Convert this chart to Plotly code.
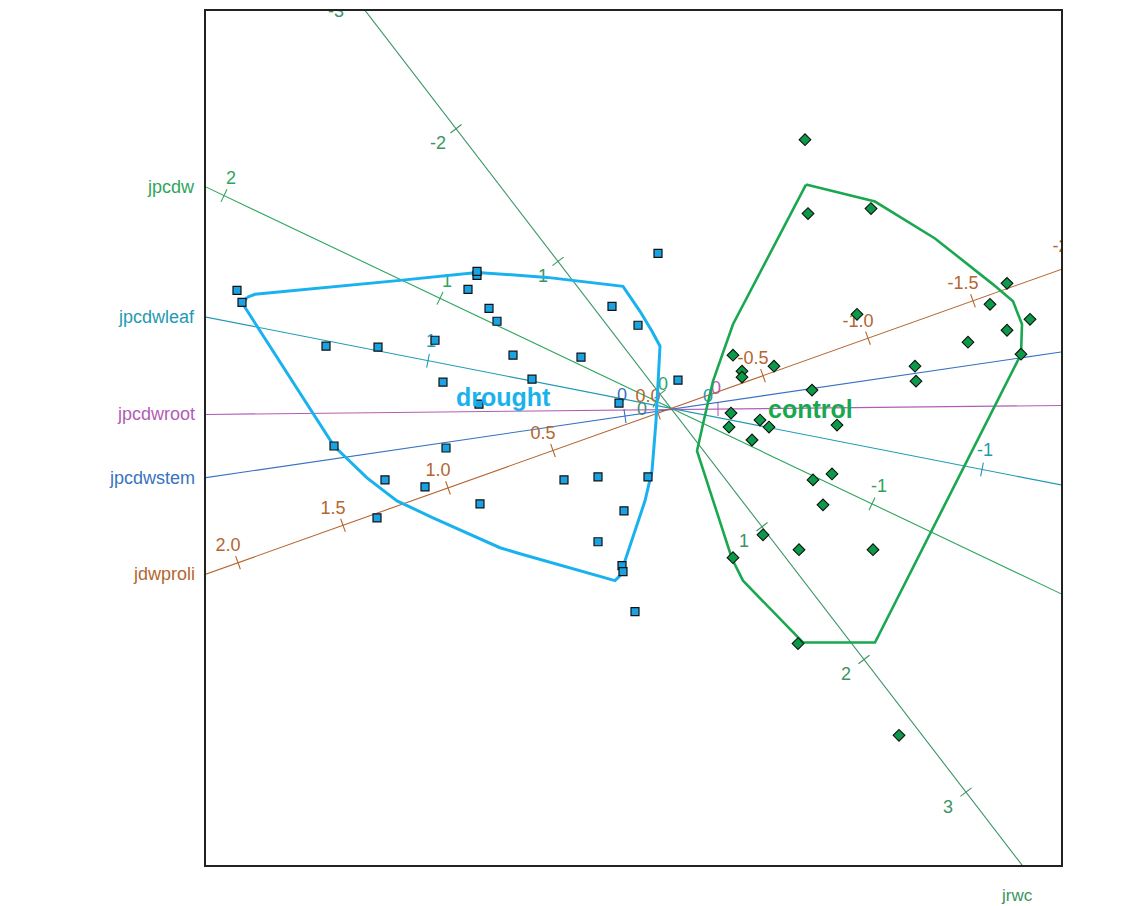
import numpy as np
import plotly.graph_objects as go

# ---- genotype scores in the biplot plane ----
drought_x = [-4.30, -4.25, -3.41, -2.89, -2.32, -2.24, -1.99, -1.90, -1.90, -1.78,
             -1.70, -1.54, -1.35, -0.86, -0.55, -0.29, -0.09, 0.11, -0.48, -1.88,
             -3.33, -2.21, -2.82, -2.42, -1.87, -2.90, -1.03, -0.69, -0.19, -0.43,
             -0.69, -0.45, -0.44, -0.32]
drought_y = [1.18, 1.06, 0.62, 0.61, 0.68, 0.26, 1.19, 1.33, 1.37, 1.00,
             0.87, 0.53, 0.29, 0.51, 1.02, 0.83, 1.55, 0.28, 0.05, 0.04,
             -0.38, -0.40, -0.72, -0.79, -0.96, -1.10, -0.72, -0.69, -0.69, -1.03,
             -1.34, -1.58, -1.64, -2.04]

control_x = [1.38, 1.41, 2.04, 1.90, 0.66, 0.75, 0.75, 1.07, 1.45, 2.48,
             2.49, 3.01, 3.40, 3.23, 3.63, 3.40, 3.54, 0.64, 0.62, 0.93,
             1.02, 0.85, 1.70, 1.46, 1.65, 1.56, 0.96, 0.66, 1.32, 2.06,
             1.31, 2.32]
control_y = [2.69, 1.95, 2.00, 0.94, 0.53, 0.37, 0.31, 0.42, 0.18, 0.42,
             0.27, 0.66, 1.25, 1.04, 0.89, 0.78, 0.54, -0.05, -0.19, -0.12,
             -0.19, -0.32, -0.17, -0.72, -0.66, -0.97, -1.27, -1.50, -1.42, -1.42,
             -2.36, -3.28]

# ---- group envelopes ----
drought_hull_x = [-4.20, -4.12, -2.67, -1.90, -1.20, -0.44, -0.27, -0.15, -0.07, -0.11,
                  -0.15, -0.22, -0.47, -0.52, -1.47, -1.67, -2.34, -2.70, -3.00, -3.22,
                  -3.33, -4.24, -4.20]
drought_hull_y = [1.11, 1.14, 1.28, 1.36, 1.31, 1.22, 0.97, 0.77, 0.62, -0.13,
                  -0.63, -0.93, -1.68, -1.73, -1.46, -1.40, -1.10, -0.93, -0.70, -0.48,
                  -0.38, 1.04, 1.11]

control_hull_x = [1.39, 2.08, 2.68, 3.26, 3.46, 3.55, 3.54, 2.08, 1.36, 0.76,
                  0.65, 0.30, 0.36, 0.46, 0.66, 1.15, 1.39]
control_hull_y = [2.24, 2.07, 1.70, 1.24, 1.07, 0.84, 0.54, -2.35, -2.35, -1.73,
                  -1.51, -0.43, -0.16, 0.27, 0.84, 1.77, 2.24]

# ---- calibrated variable axes: zero mark and displacement per unit ----
var_names = ["jrwc", "jpcdw", "jpcdwleaf", "jpcdwroot", "jpcdwstem", "jdwproli"]
var_origin_x = [-0.07, -0.11, 0.38, 0.51, -0.42, -0.09]
var_origin_y = [0.14, 0.07, -0.07, -0.01, -0.08, -0.05]
var_step_x = [1.02, -2.16, -2.77, -6.00, -6.00, -2.10]
var_step_y = [-1.33, 1.03, 0.545, -0.063, -0.884, -0.75]
var_ticks = [
    [-3, -2, -1, 0, 1, 2, 3],
    [-2, -1, 0, 1, 2],
    [-1, 0, 1],
    [0],
    [0],
    [-2.0, -1.5, -1.0, -0.5, 0.0, 0.5, 1.0, 1.5, 2.0],
]
var_tick_fmt = ["{:g}", "{:g}", "{:g}", "{:g}", "{:g}", "{:.1f}"]

# styling per axis
var_colors = ["#3b9463", "#2ea55c", "#1f9ab3", "#b35cb5", "#3872c2", "#b5652f"]
label_shift_x = [-0.18, 0.07, 0.03, -0.02, -0.03, -0.10]
label_shift_y = [-0.16, 0.16, 0.18, 0.20, 0.20, 0.16]

XR = [-4.61, 3.94]
YR = [-4.58, 3.98]
TICK_HALF = 0.07
FONT = "Liberation Sans, Arial, sans-serif"

fig = go.Figure()

annotations = []
for i, name in enumerate(var_names):
    ox, oy = var_origin_x[i], var_origin_y[i]
    sx, sy = var_step_x[i], var_step_y[i]
    col = var_colors[i]
    L = np.hypot(sx, sy)
    tmax = 14.0 / L
    # axis line across the whole panel
    fig.add_trace(go.Scatter(
        x=[ox - tmax * sx, ox + tmax * sx], y=[oy - tmax * sy, oy + tmax * sy],
        mode="lines", line=dict(color=col, width=1.1), hoverinfo="skip", showlegend=False))
    # perpendicular calibration marks
    px, py = -sy / L, sx / L
    mx, my = [], []
    tx, ty, tt = [], [], []
    for v in var_ticks[i]:
        cx, cy = ox + v * sx, oy + v * sy
        mx += [cx - TICK_HALF * px, cx + TICK_HALF * px, None]
        my += [cy - TICK_HALF * py, cy + TICK_HALF * py, None]
        tx.append(cx + label_shift_x[i])
        ty.append(cy + label_shift_y[i])
        tt.append(var_tick_fmt[i].format(v))
    fig.add_trace(go.Scatter(x=mx, y=my, mode="lines", line=dict(color=col, width=1.1),
                             hoverinfo="skip", showlegend=False))
    fig.add_trace(go.Scatter(x=tx, y=ty, mode="text", text=tt, cliponaxis=True,
                             textfont=dict(family=FONT, size=18, color=col),
                             hoverinfo="skip", showlegend=False))
    # variable name where the axis leaves the panel
    if name != "jrwc":
        t = (XR[0] - ox) / sx
        annotations.append(dict(x=XR[0], y=oy + t * sy, xref="x", yref="y", text=name,
                                showarrow=False, xanchor="right", yanchor="middle", xshift=-9,
                                font=dict(family=FONT, size=18, color=col)))
    else:
        t = (YR[0] - oy) / sy
        annotations.append(dict(x=ox + t * sx, y=YR[0], xref="x", yref="y", text=name,
                                showarrow=False, xanchor="center", yanchor="middle",
                                xshift=-5, yshift=-30,
                                font=dict(family=FONT, size=17, color=col)))

# group envelopes
fig.add_trace(go.Scatter(x=drought_hull_x, y=drought_hull_y, mode="lines",
                         line=dict(color="#1ab2ee", width=3), hoverinfo="skip", showlegend=False))
fig.add_trace(go.Scatter(x=control_hull_x, y=control_hull_y, mode="lines",
                         line=dict(color="#19a84f", width=2.6), hoverinfo="skip", showlegend=False))

# genotypes
fig.add_trace(go.Scatter(x=drought_x, y=drought_y, mode="markers", name="drought",
                         marker=dict(symbol="square", size=8, color="#1aa3e2",
                                     line=dict(color="#111111", width=1.2)),
                         showlegend=False))
fig.add_trace(go.Scatter(x=control_x, y=control_y, mode="markers", name="control",
                         marker=dict(symbol="diamond", size=9, color="#0a9a48",
                                     line=dict(color="#111111", width=1.1)),
                         showlegend=False))

# group names
annotations.append(dict(x=-1.64, y=0.11, xref="x", yref="y", text="<b>drought</b>",
                        showarrow=False, font=dict(family=FONT, size=25, color="#1ab2ee")))
annotations.append(dict(x=1.43, y=-0.01, xref="x", yref="y", text="<b>control</b>",
                        showarrow=False, font=dict(family=FONT, size=25, color="#19a84f")))

fig.update_layout(
    width=1145, height=906, autosize=False,
    margin=dict(l=206, r=84, t=9, b=41),
    paper_bgcolor="white", plot_bgcolor="white",
    annotations=annotations,
    xaxis=dict(range=XR, showgrid=False, zeroline=False, showticklabels=False, ticks="",
               showline=True, mirror=True, linecolor="#222222", linewidth=1.6),
    yaxis=dict(range=YR, showgrid=False, zeroline=False, showticklabels=False, ticks="",
               showline=True, mirror=True, linecolor="#222222", linewidth=1.6),
)

fig.write_html("out.html")
